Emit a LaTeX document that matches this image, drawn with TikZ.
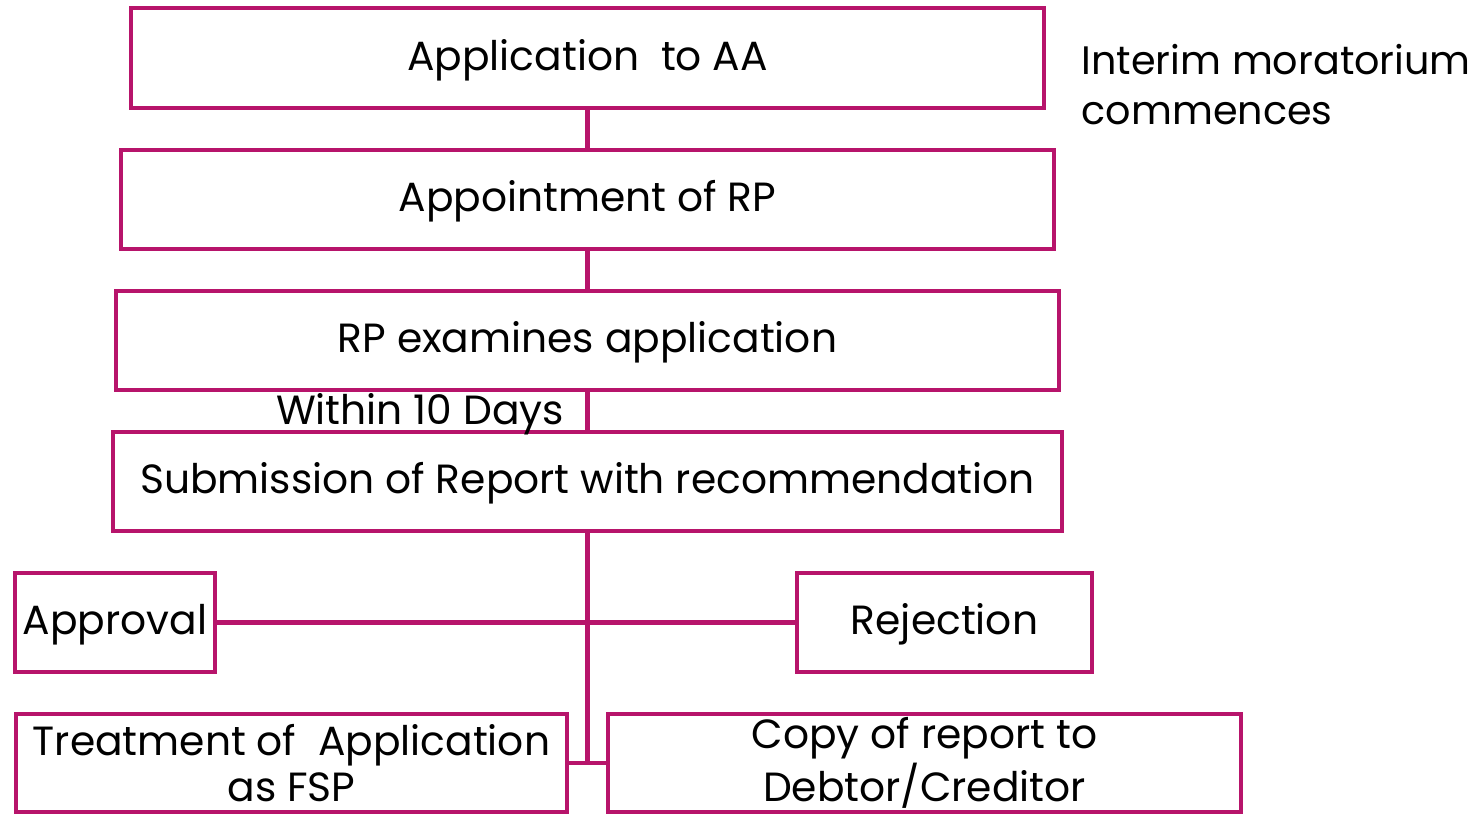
\documentclass[tikz,border=0pt]{standalone}
\usepackage{fontspec}
\setmainfont{Poppins}
\usepackage{tikz}
\usetikzlibrary{positioning}

\definecolor{plum}{RGB}{183,20,107}
\tikzset{
  stage/.style={draw=plum,line width=1.15pt,inner sep=0pt,align=center,font=\fontsize{11.6}{13.1}\selectfont},
  oneline/.style={stage,text height=0.7em,text depth=0pt},
  link/.style={draw=plum,line width=1.15pt},
  note/.style={inner sep=0pt,align=left,font=\fontsize{11.3}{14.2}\selectfont}
}

\begin{document}
\begin{tikzpicture}
\useasboundingbox (0,0) rectangle (14.77,-8.13);

\node[oneline,minimum width=9.13cm,minimum height=1.0cm] (apply) at (5.875,-0.58) {Application\ \ to AA};
\node[oneline,minimum width=9.33cm,minimum height=0.99cm] (appoint) at (5.875,-1.995) {Appointment of RP};
\node[oneline,minimum width=9.43cm,minimum height=0.99cm] (exam) at (5.875,-3.405) {RP examines application};
\node[oneline,minimum width=9.49cm,minimum height=0.99cm] (report) at (5.875,-4.815) {Submission of Report with recommendation};

\node[oneline,minimum width=2.0cm,minimum height=0.99cm] (approve) at (1.15,-6.225) {Approval};
\node[oneline,minimum width=2.95cm,minimum height=0.99cm] (reject) at (9.445,-6.225) {Rejection};
\node[stage,minimum width=5.51cm,minimum height=0.98cm] (treat) at (2.915,-7.63) {Treatment of\ \ Application\\as FSP};
\node[stage,minimum width=6.33cm,minimum height=0.98cm] (copy) at (9.245,-7.63) {Copy of report to\\Debtor/Creditor};

\node[note,anchor=west] (interim) at (10.81,-0.85) {Interim moratorium\\commences};
\node[note,font=\fontsize{11.6}{13.1}\selectfont,text height=0.7em,text depth=0pt] (days) at (4.2,-4.12) {Within 10 Days};

\coordinate (joint) at (5.875,-7.64);

\draw[link] (apply.south)--(appoint.north);
\draw[link] (appoint.south)--(exam.north);
\draw[link] (exam.south)--(report.north);
\draw[link] (report.south)--(joint);
\draw[link] (approve.east)--(reject.west);
\draw[link] (treat.east)--(copy.west);

\end{tikzpicture}
\end{document}
